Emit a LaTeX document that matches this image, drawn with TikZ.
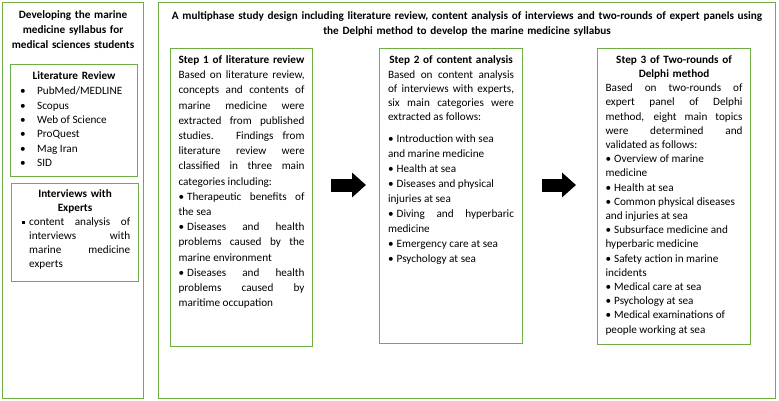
\documentclass[tikz,border=0pt]{standalone}
\usepackage{fontspec}
\setmainfont{Carlito}
\usepackage{tikz}
\usetikzlibrary{arrows.meta}
\definecolor{boxgreen}{HTML}{70AD47}
\newcommand{\itembul}{•\hspace{3pt}}

\begin{document}
\begin{tikzpicture}[x=1pt,y=-1pt,
    panel/.style={draw=boxgreen,line width=1.1pt,inner sep=0pt,anchor=north west},
    txt/.style={anchor=north,inner sep=0pt,align=justify,font=\fontsize{11.2}{15}\selectfont},
    head/.style={anchor=north,inner sep=0pt,align=center,font=\fontsize{11.2}{15}\selectfont\bfseries},
    blockarrow/.style={line width=13pt,-{Triangle[width=24pt,length=14pt]}}]
    \useasboundingbox (0,0) rectangle (779,401);
    \node[panel,minimum width=141pt,minimum height=396pt] (left) at (2,2) {};
    \node[panel,minimum width=127pt,minimum height=112pt] (lit) at (10,64) {};
    \node[panel,minimum width=127pt,minimum height=98pt] (int) at (11,183) {};
    \node[panel,minimum width=617pt,minimum height=396pt] (right) at (158,2) {};
    \node[panel,minimum width=142pt,minimum height=298pt] (s1) at (170,48) {};
    \node[panel,minimum width=143pt,minimum height=295pt] (s2) at (379,48) {};
    \node[panel,minimum width=153pt,minimum height=296pt] (s3) at (597,48) {};

    \node[head,text width=138pt] (lefttitle) at ([yshift=-8.7pt]left.north)
        {Developing the marine\\medicine syllabus for\\medical sciences students};
    \node[head,text width=120pt] (lithead) at ([yshift=-7.7pt]lit.north) {Literature Review};
    \node[txt,anchor=north west,align=left,font=\fontsize{11.2}{14.4}\selectfont] (litlist)
        at ([xshift=10pt,yshift=-22.7pt]lit.north west)
        {\makebox[17pt][l]{•}PubMed/MEDLINE\\\makebox[17pt][l]{•}Scopus\\
         \makebox[17pt][l]{•}Web of Science\\\makebox[17pt][l]{•}ProQuest\\
         \makebox[17pt][l]{•}Mag Iran\\\makebox[17pt][l]{•}SID};
    \node[head,text width=120pt,font=\fontsize{11.2}{14}\selectfont\bfseries] (inthead)
        at ([yshift=-6.7pt]int.north) {Interviews with\\Experts};
    \node[txt,anchor=north west,text width=101pt,font=\fontsize{11.2}{14}\selectfont] (intbody)
        at ([xshift=18pt,yshift=-34.7pt]int.north west)
        {\llap{\raisebox{1.8pt}{\rule{3pt}{3pt}}\hspace{4pt}}content analysis of\linebreak
         interviews with\linebreak marine medicine\linebreak experts};

    \node[head,text width=610pt] (title) at ([yshift=-9.7pt]right.north)
        {A multiphase study design including literature review, content analysis of interviews and two-rounds of expert panels using\\
         the Delphi method to develop the marine medicine syllabus};

    \node[head,text width=130pt] (s1head) at ([yshift=-7.7pt]s1.north) {Step 1 of literature review};
    \node[txt,text width=126pt,font=\fontsize{11.2}{15.2}\selectfont] (s1body) at ([yshift=-22.7pt]s1.north)
        {Based on literature review,\linebreak
         concepts and contents of\linebreak
         marine medicine were\linebreak
         extracted from published\linebreak
         studies. Findings from\linebreak
         literature review were\linebreak
         classified in three main\linebreak
         categories including:\\
         \itembul Therapeutic benefits of\linebreak
         the sea\\
         \itembul Diseases and health\linebreak
         problems caused by the\linebreak
         marine environment\\
         \itembul Diseases and health\linebreak
         problems caused by\linebreak
         maritime occupation};

    \node[head,text width=130pt] (s2head) at ([yshift=-7.7pt]s2.north) {Step 2 of content analysis};
    \node[txt,text width=126pt,font=\fontsize{11.2}{14}\selectfont] (s2body) at ([yshift=-22.7pt]s2.north)
        {Based on content analysis\linebreak
         of interviews with experts,\linebreak
         six main categories were\linebreak
         extracted as follows:};
    \node[txt,text width=126pt] (s2list) at ([yshift=-86.7pt]s2.north)
        {\itembul Introduction with sea\\
         and marine medicine\\
         \itembul Health at sea\\
         \itembul Diseases and physical\\
         injuries at sea\\
         \itembul Diving and hyperbaric\linebreak
         medicine\\
         \itembul Emergency care at sea\\
         \itembul Psychology at sea};

    \node[head,text width=140pt,font=\fontsize{11.2}{14.2}\selectfont\bfseries] (s3head)
        at ([yshift=-7.7pt]s3.north) {Step 3 of Two-rounds of\\Delphi method};
    \node[txt,text width=137pt,font=\fontsize{11.2}{14.2}\selectfont] (s3body) at ([yshift=-35.7pt]s3.north)
        {Based on two-rounds of\linebreak
         expert panel of Delphi\linebreak
         method, eight main topics\linebreak
         were determined and\linebreak
         validated as follows:\\
         \itembul Overview of marine\\
         medicine\\
         \itembul Health at sea\\
         \itembul Common physical diseases\\
         and injuries at sea\\
         \itembul Subsurface medicine and\\
         hyperbaric medicine\\
         \itembul Safety action in marine\\
         incidents\\
         \itembul Medical care at sea\\
         \itembul Psychology at sea\\
         \itembul Medical examinations of\\
         people working at sea};

    \draw[blockarrow,shorten <=18pt,shorten >=13pt] (s1.east |- 0,185) -- (s2.west |- 0,185);
    \draw[blockarrow,shorten <=19pt,shorten >=21pt] (s2.east |- 0,185) -- (s3.west |- 0,185);
\end{tikzpicture}
\end{document}
